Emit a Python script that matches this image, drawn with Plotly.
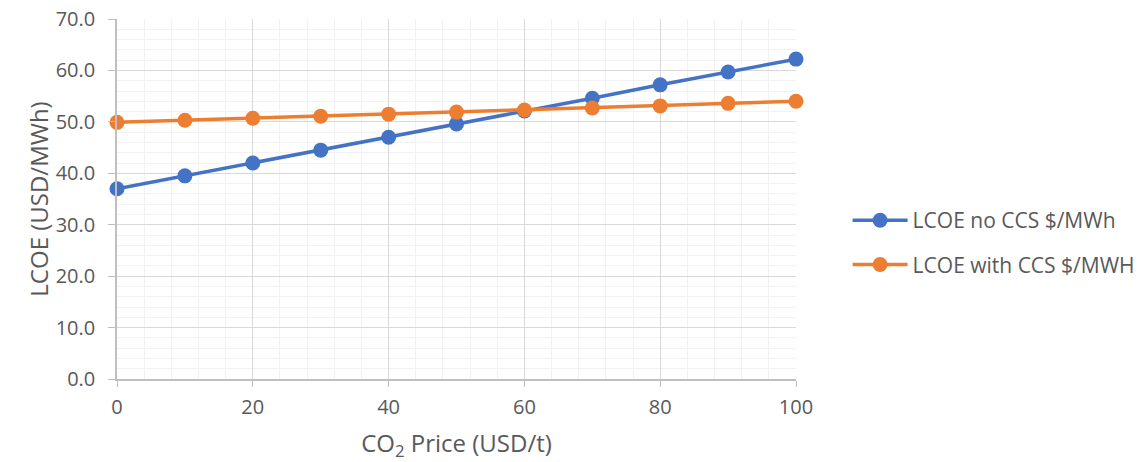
import plotly.graph_objects as go

co2_price = [0, 10, 20, 30, 40, 50, 60, 70, 80, 90, 100]
lcoe_no_ccs = [37.0, 39.5, 42.0, 44.5, 47.0, 49.6, 52.1, 54.6, 57.2, 59.7, 62.2]
lcoe_with_ccs = [49.9, 50.3, 50.7, 51.1, 51.5, 51.9, 52.3, 52.7, 53.1, 53.6, 54.0]
series_names = ["LCOE no CCS $/MWh", "LCOE with CCS $/MWH"]

FONT = "'Open Sans', sans-serif"
TXT = "#595959"

fig = go.Figure()
fig.add_trace(go.Scatter(x=co2_price, y=lcoe_no_ccs, name=series_names[0], mode="lines+markers",
                         line=dict(color="#4472C4", width=3.5), marker=dict(size=15, color="#4472C4"),
                         legendgroup="a", cliponaxis=False))
fig.add_trace(go.Scatter(x=co2_price, y=lcoe_with_ccs, name=series_names[1], mode="lines+markers",
                         line=dict(color="#ED7D31", width=3.5), marker=dict(size=15, color="#ED7D31"),
                         legendgroup="b", cliponaxis=False))

fig.update_layout(
    width=1143, height=462,
    margin=dict(l=117, r=347, t=19, b=83, autoexpand=False),
    paper_bgcolor="white", plot_bgcolor="white",
    font=dict(family=FONT, size=20, color=TXT),
    legend=dict(x=1.076, y=0.379, xanchor="left", yanchor="middle", font=dict(size=21, color=TXT),
                itemwidth=55, tracegroupgap=14, bgcolor="rgba(0,0,0,0)"),
    xaxis=dict(range=[0, 100], tickvals=[0, 20, 40, 60, 80, 100], showgrid=True, gridcolor="#d9d9d9", gridwidth=1,
               minor=dict(dtick=4, showgrid=True, gridcolor="#f2f2f2", gridwidth=1),
               showline=True, linecolor="#bfbfbf", linewidth=1.5, ticks="outside", ticklen=6, tickcolor="#bfbfbf",
               zeroline=False, tickfont=dict(size=20, color=TXT), automargin=False, ticklabelstandoff=3,
               title=dict(text="CO<sub>2</sub> Price (USD/t)", font=dict(size=24, color=TXT), standoff=36)),
    yaxis=dict(range=[0, 70], dtick=10, tickformat=".1f", showgrid=True, gridcolor="#d9d9d9", gridwidth=1,
               minor=dict(dtick=2, showgrid=True, gridcolor="#f2f2f2", gridwidth=1),
               showline=True, linecolor="#bfbfbf", linewidth=1.5, ticks="outside", ticklen=7, tickcolor="#bfbfbf",
               zeroline=False, tickfont=dict(size=20, color=TXT), automargin=False, ticklabelstandoff=9,
               title=dict(text="LCOE (USD/MWh)", font=dict(size=24, color=TXT), standoff=0)),
)

fig.write_html("out.html", config={"displayModeBar": False}, post_script="document.body.style.margin='0';")
